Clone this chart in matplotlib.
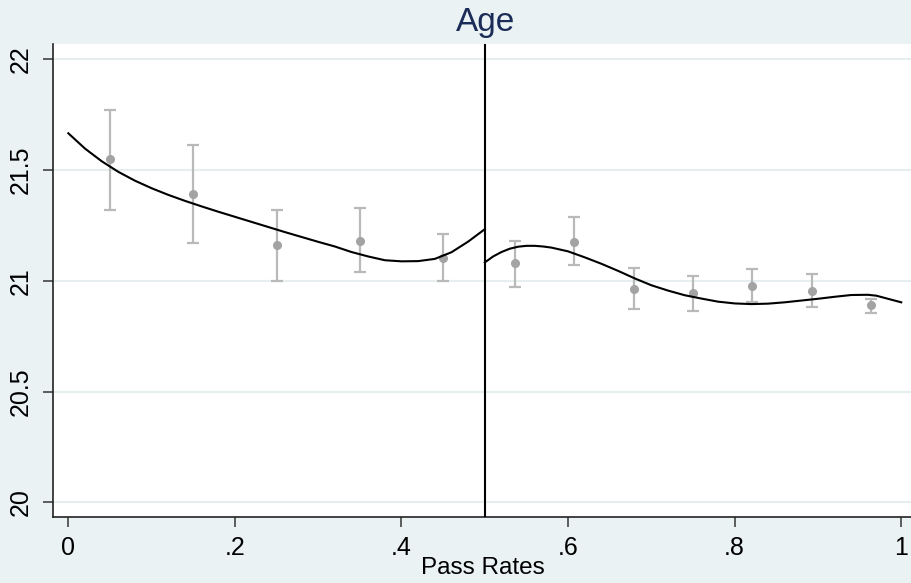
import matplotlib
matplotlib.use("Agg")
import matplotlib.pyplot as plt

# binned means with 95% CIs, left and right of the 0.5 cutoff
left_bins = [0.05, 0.15, 0.25, 0.35, 0.45]
left_means = [21.55, 21.39, 21.16, 21.18, 21.105]
left_lo = [21.32, 21.17, 21.00, 21.04, 21.00]
left_hi = [21.77, 21.615, 21.32, 21.33, 21.21]

right_bins = [0.536, 0.607, 0.679, 0.75, 0.821, 0.893, 0.964]
right_means = [21.08, 21.177, 20.962, 20.946, 20.977, 20.955, 20.889]
right_lo = [20.97, 21.07, 20.873, 20.865, 20.903, 20.883, 20.853]
right_hi = [21.18, 21.287, 21.056, 21.023, 21.052, 21.029, 20.918]

# fitted curves
left_fit_x = [0.00, 0.02, 0.04, 0.06, 0.08, 0.10, 0.12, 0.14, 0.16, 0.18,
              0.20, 0.22, 0.24, 0.26, 0.28, 0.30, 0.32, 0.34, 0.36, 0.38,
              0.40, 0.42, 0.44, 0.46, 0.48, 0.50]
left_fit_y = [21.666, 21.597, 21.540, 21.492, 21.452, 21.418, 21.388, 21.361,
              21.336, 21.312, 21.289, 21.266, 21.243, 21.220, 21.198, 21.176,
              21.155, 21.130, 21.110, 21.093, 21.088, 21.089, 21.099, 21.129,
              21.177, 21.233]
right_fit_x = [0.50, 0.51, 0.52, 0.53, 0.54, 0.55, 0.56, 0.57, 0.58, 0.60,
               0.62, 0.64, 0.66, 0.68, 0.70, 0.72, 0.74, 0.76, 0.78, 0.80,
               0.82, 0.84, 0.86, 0.88, 0.90, 0.92, 0.94, 0.96, 0.97, 0.98,
               0.99, 1.00]
right_fit_y = [21.083, 21.110, 21.130, 21.145, 21.154, 21.158, 21.158, 21.155,
               21.150, 21.133, 21.106, 21.077, 21.045, 21.011, 20.980, 20.956,
               20.935, 20.920, 20.906, 20.898, 20.895, 20.897, 20.903, 20.911,
               20.919, 20.928, 20.936, 20.937, 20.933, 20.923, 20.913, 20.903]

cutoff = 0.5
x_ticks = [0, 0.2, 0.4, 0.6, 0.8, 1.0]
x_tick_labels = ["0", ".2", ".4", ".6", ".8", "1"]
y_ticks = [20, 20.5, 21, 21.5, 22]
y_tick_labels = ["20", "20.5", "21", "21.5", "22"]

BG = "#EAF2F3"
GRID = "#E6EEF0"
PT_COLOR = "#A3A3A3"
ERR_COLOR = "#B9B9B9"
FONT = ["Liberation Sans", "DejaVu Sans"]

plt.rcParams["font.family"] = FONT

fig = plt.figure(figsize=(9.12, 5.83), dpi=100, facecolor=BG)
ax = fig.add_axes([53 / 912, 1 - 517 / 583, 859 / 912, 473 / 583])
ax.set_facecolor("white")

for x, m, lo, hi in zip(left_bins + right_bins, left_means + right_means,
                        left_lo + right_lo, left_hi + right_hi):
    ax.errorbar([x], [m], yerr=[[m - lo], [hi - m]], fmt="none",
                ecolor=ERR_COLOR, elinewidth=1.6, capsize=4, capthick=1.6, zorder=2)
ax.plot(left_bins + right_bins, left_means + right_means, "o", color=PT_COLOR,
        markersize=5.5, zorder=3, linestyle="none")

ax.plot(left_fit_x, left_fit_y, color="black", lw=1.5, zorder=4,
        solid_joinstyle="round")
ax.plot(right_fit_x, right_fit_y, color="black", lw=1.5, zorder=4,
        solid_joinstyle="round")
ax.axvline(cutoff, color="black", lw=1.5, zorder=5)

ax.set_xlim(-0.0184, 1.0129)
ax.set_ylim(19.934, 22.069)
ax.set_xticks(x_ticks)
ax.set_xticklabels(x_tick_labels)
ax.set_yticks(y_ticks)
ax.set_yticklabels(y_tick_labels, rotation=90, va="center")

ax.grid(axis="y", color=GRID, lw=1.5, zorder=0)
ax.set_axisbelow(True)
for s in ["top", "right"]:
    ax.spines[s].set_visible(False)
for s in ["left", "bottom"]:
    ax.spines[s].set_color("#222222")
    ax.spines[s].set_linewidth(1.2)
ax.tick_params(axis="both", direction="out", length=7.5, width=1.2,
               color="#444444", labelsize=18, labelcolor="black")
ax.tick_params(axis="x", pad=6)
ax.tick_params(axis="y", pad=7)

ax.set_xlabel("Pass Rates", fontsize=17.5, labelpad=-2)
fig.text(486 / 912, 1 - 31 / 583, "Age", ha="center", va="baseline",
         fontsize=24, color="#1C2C58")

plt.savefig("out.png", dpi=100, facecolor=BG)
plt.close()
